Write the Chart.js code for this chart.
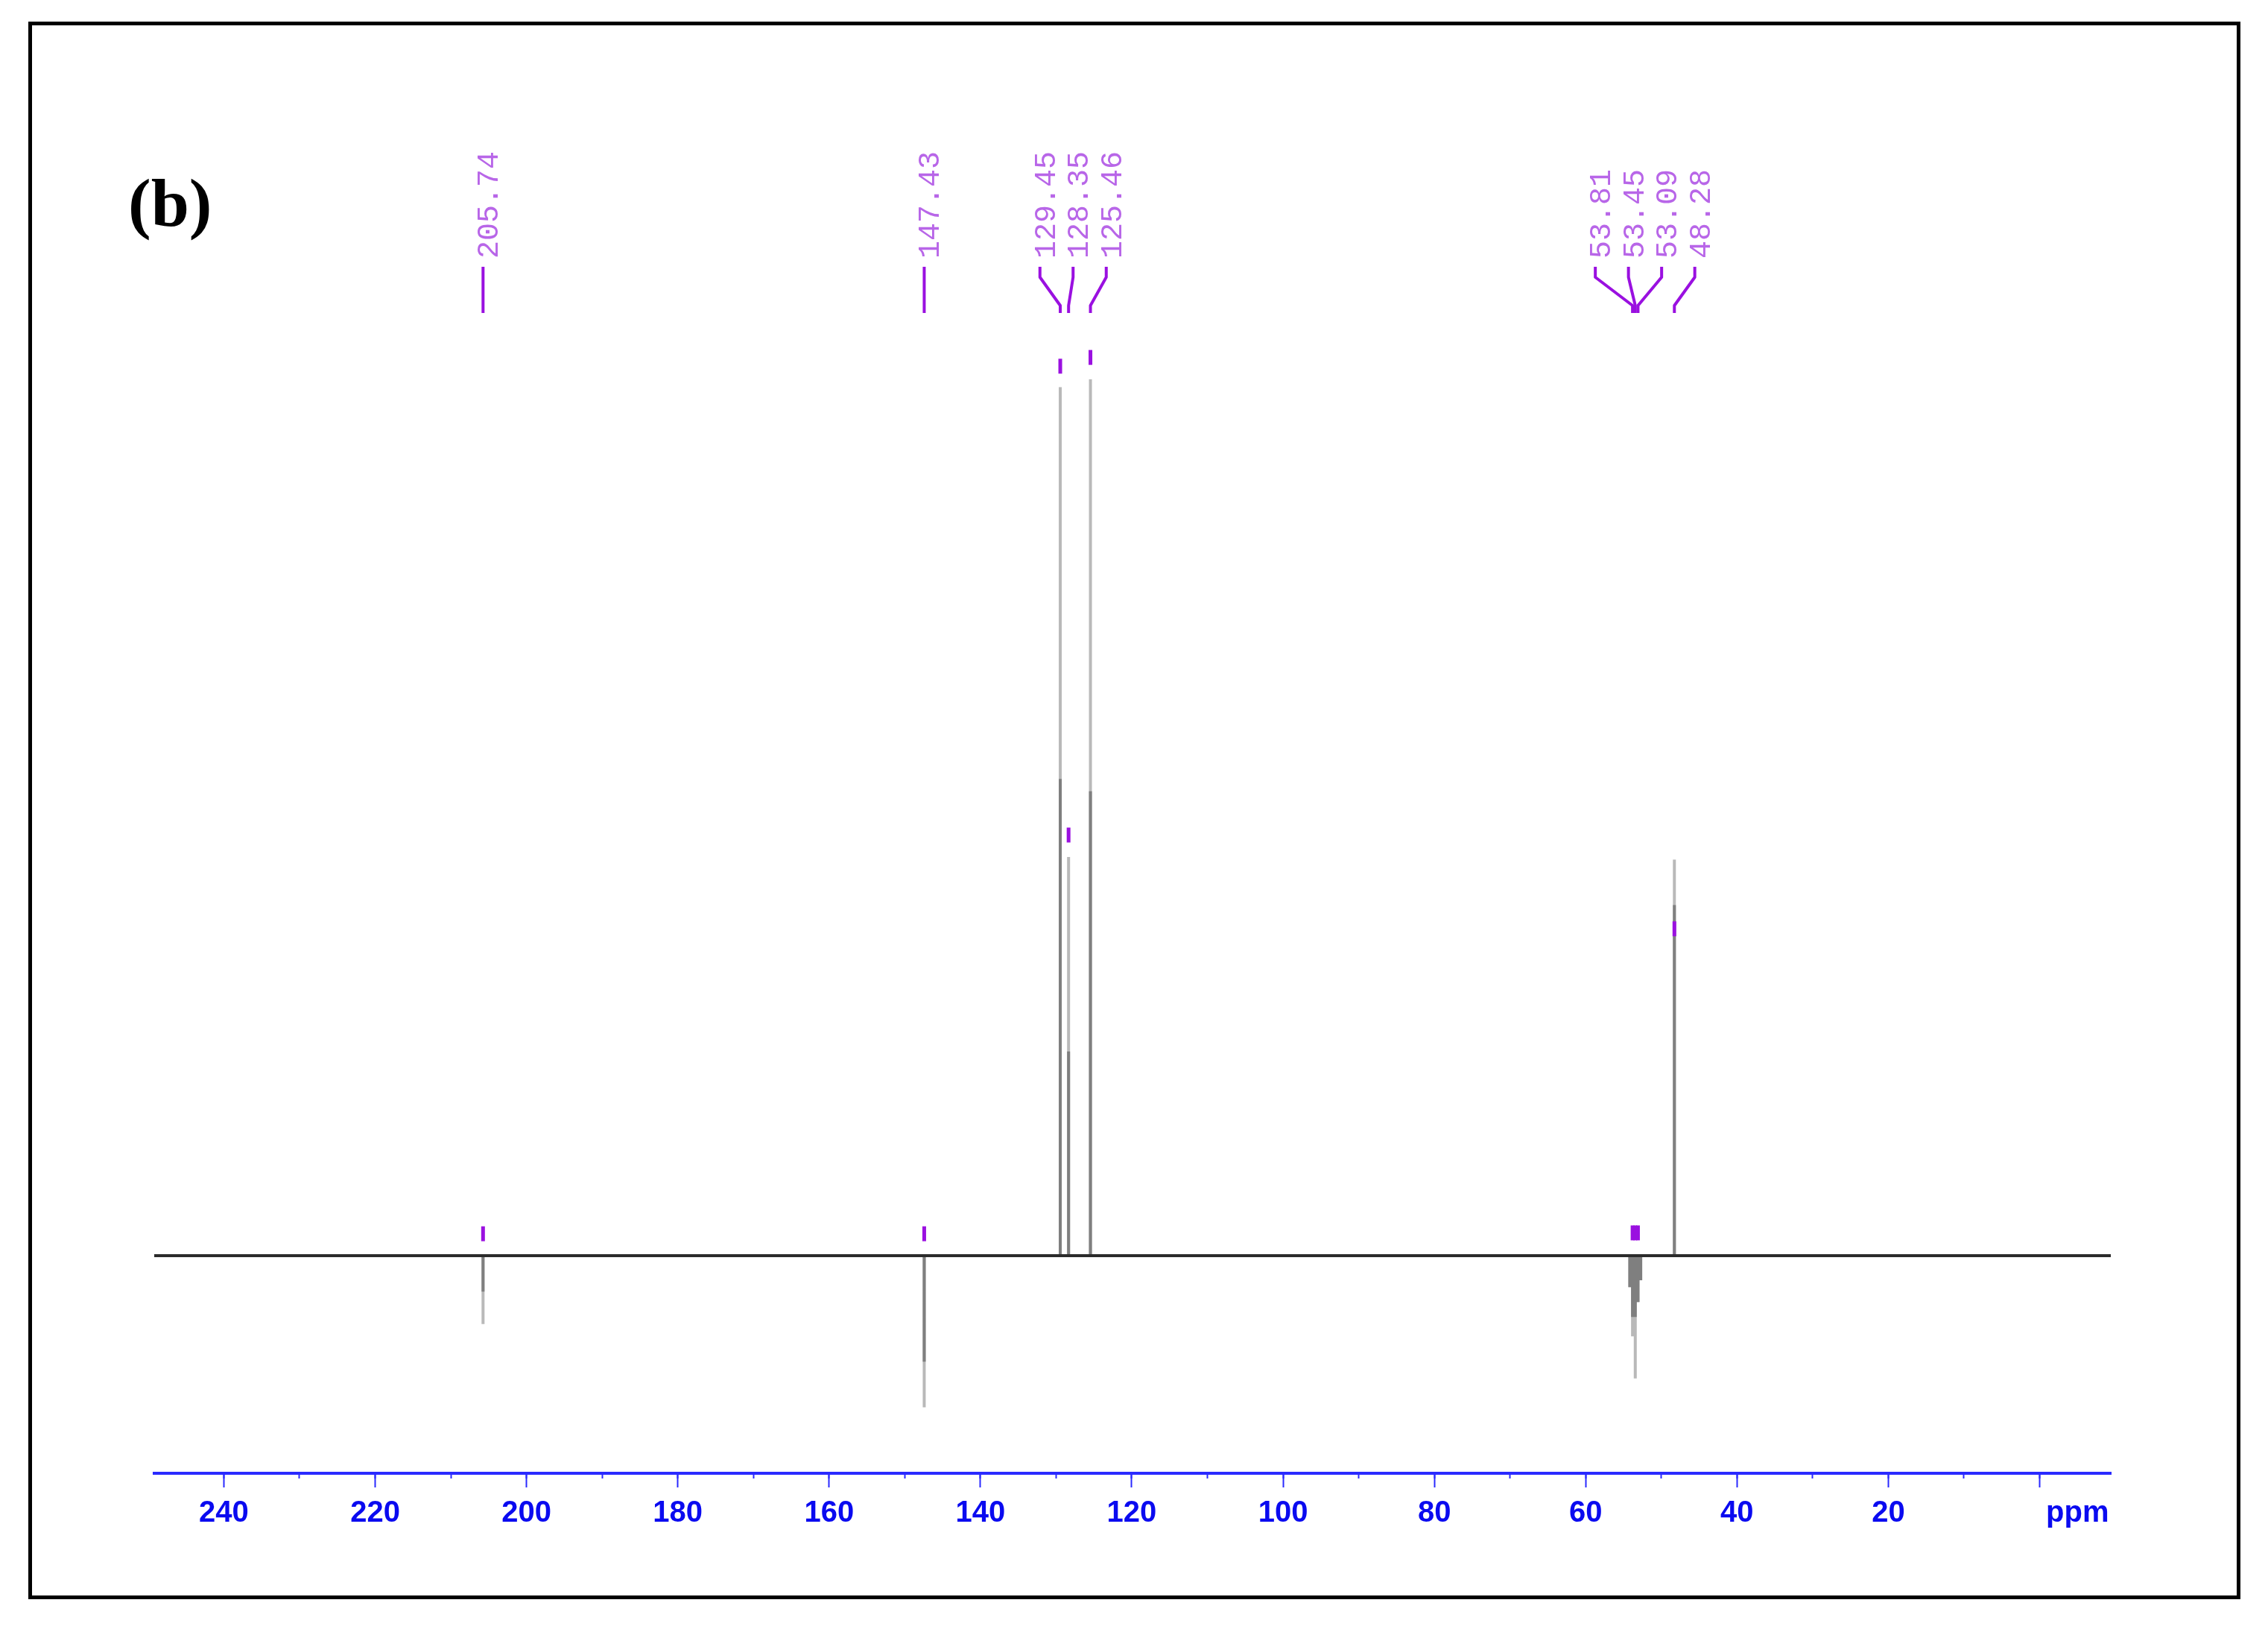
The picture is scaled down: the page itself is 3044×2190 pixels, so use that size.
<!DOCTYPE html>
<html>
<head>
<meta charset="utf-8">
<script src="https://cdn.jsdelivr.net/npm/chart.js@4.4.1/dist/chart.umd.min.js"></script>
<style>
  html, body { margin: 0; padding: 0; background: #fff; }
  #wrap { position: relative; width: 3044px; height: 2190px; }
  #frame { position: absolute; left: 38px; top: 29px; width: 2969px; height: 2117px; border: 5px solid #000; box-sizing: border-box; }
  #panel { position: absolute; left: 172px; top: 226px; font: bold 92px "Liberation Serif", serif; line-height: 1; color: #000; }
  canvas { position: absolute; left: 0; top: 0; }
</style>
</head>
<body>
<div id="wrap">
  <div id="frame"></div>
  <canvas id="spectrum" width="3044" height="2190"></canvas>
  <div id="panel">(b)</div>
</div>
<script>
// 13C spectrum, panel (b). Shifts in ppm, intensities relative (125.46 = 100)
const peakPpm    = [205.74, 147.43, 129.45, 128.35, 125.46, 54.17, 53.81, 53.45, 53.09, 52.73, 48.28];
const peakHeight = [-7.8, -17.3, 99.1, 45.5, 100, -3.6, -9.2, -14.0, -5.3, -2.8, 45.2];
const peakCore   = [-4.1, -12.1, 54.4, 23.3, 53.0, -3.6, -7.0, -7.0, -5.3, -2.8, 40.0];

// picked peaks: label values and the level of the little pick mark
const labelPpm    = [205.74, 147.43, 129.45, 128.35, 125.46, 53.81, 53.45, 53.09, 48.28];
const markerLevel = [2.5, 2.5, 101.5, 48.0, 102.5, 2.6, 2.6, 2.6, 37.3];

const ppmMax = 249.2, ppmMin = -9.4;
const yMin = -24.83, yMax = 105.02;
const majorStep = 20, minorStep = 10;
const unitLabel = 'ppm', unitPos = -5;

const purple = '#9a10e0';
const blue = '#2a2aff';

function sticks(heights) {
  const pts = [];
  peakPpm.forEach((p, i) => {
    pts.push({x: p, y: 0}, {x: p, y: heights[i]}, {x: p, y: null});
  });
  return pts;
}

// rotated shift labels on top, spread apart when peaks crowd together
const peakLabels = {
  id: 'peakLabels',
  afterDatasetsDraw(chart) {
    const {ctx, chartArea, scales: {x}} = chart;
    const px = labelPpm.map(p => x.getPixelForValue(p));
    const gap = 44.5;
    let groups = px.map(v => ({sum: v, n: 1}));
    const start = g => g.sum / g.n - (g.n - 1) * gap / 2;
    let merged = true;
    while (merged) {
      merged = false;
      for (let i = 0; i < groups.length - 1; i++) {
        const a = groups[i], b = groups[i + 1];
        if (start(a) + a.n * gap > start(b)) {
          groups.splice(i, 2, {sum: a.sum + b.sum, n: a.n + b.n});
          merged = true;
          break;
        }
      }
    }
    const lx = [];
    groups.forEach(g => { for (let k = 0; k < g.n; k++) lx.push(start(g) + k * gap); });

    const top = chartArea.top;
    ctx.save();
    ctx.strokeStyle = purple;
    ctx.lineWidth = 4;
    ctx.lineJoin = 'round';
    px.forEach((p, i) => {
      ctx.beginPath();
      ctx.moveTo(lx[i], top - 92);
      ctx.lineTo(lx[i], top - 78);
      ctx.lineTo(p, top - 40);
      ctx.lineTo(p, top - 30);
      ctx.stroke();
    });
    ctx.fillStyle = '#b866e8';
    ctx.font = '40px "Liberation Mono", monospace';
    ctx.textAlign = 'left';
    ctx.textBaseline = 'alphabetic';
    labelPpm.forEach((p, i) => {
      ctx.save();
      ctx.translate(lx[i] + 20, top - 103);
      ctx.rotate(-Math.PI / 2);
      ctx.fillText(p.toFixed(2), 0, 0);
      ctx.restore();
    });
    ctx.restore();
  }
};

new Chart(document.getElementById('spectrum'), {
  type: 'scatter',
  data: {
    datasets: [
      {
        data: labelPpm.map((p, i) => ({x: p, y: markerLevel[i]})),
        order: 0,
        pointStyle: 'line', rotation: 90, pointRadius: 10, borderWidth: 5, borderColor: purple
      },
      {
        data: [{x: ppmMax, y: 0}, {x: ppmMin, y: 0}],
        order: 1,
        showLine: true, borderColor: '#2b2b2b', borderWidth: 4, pointRadius: 0
      },
      {
        data: sticks(peakCore),
        order: 2,
        showLine: true, spanGaps: false, borderColor: '#7f7f7f', borderWidth: 4, pointRadius: 0
      },
      {
        data: sticks(peakHeight),
        order: 3,
        showLine: true, spanGaps: false, borderColor: '#b9b9b9', borderWidth: 4, pointRadius: 0
      }
    ]
  },
  options: {
    responsive: false,
    animation: false,
    events: [],
    layout: { padding: { top: 450, left: 207, right: 211, bottom: 0 } },
    plugins: { legend: { display: false }, tooltip: { enabled: false } },
    scales: {
      x: {
        type: 'linear', position: 'bottom', reverse: true, min: ppmMin, max: ppmMax,
        afterFit(s) { s.height = 213; },
        afterBuildTicks(s) { s.ticks.push({value: unitPos}); },
        border: { display: true, color: blue, width: 4 },
        grid: {
          drawOnChartArea: false, drawTicks: true, tickLength: 19, tickWidth: 2,
          tickColor: c => (c.tick && c.tick.value === unitPos) ? 'rgba(0,0,0,0)' : blue
        },
        ticks: {
          stepSize: majorStep, includeBounds: false, autoSkip: false,
          maxRotation: 0, minRotation: 0, padding: 11, color: '#0a0af0',
          font: { family: '"Liberation Sans", Arial, sans-serif', size: 40, weight: 'bold' },
          callback: v => v === unitPos ? unitLabel : (v === 0 ? '' : v)
        }
      },
      x2: {
        type: 'linear', axis: 'x', position: { y: yMin }, reverse: true, min: ppmMin, max: ppmMax,
        border: { display: false },
        grid: { drawOnChartArea: false, drawTicks: true, tickLength: 7, tickWidth: 2, tickColor: blue },
        ticks: { display: false, stepSize: minorStep, includeBounds: false }
      },
      y: { type: 'linear', display: false, min: yMin, max: yMax }
    }
  },
  plugins: [peakLabels]
});
</script>
</body>
</html>
